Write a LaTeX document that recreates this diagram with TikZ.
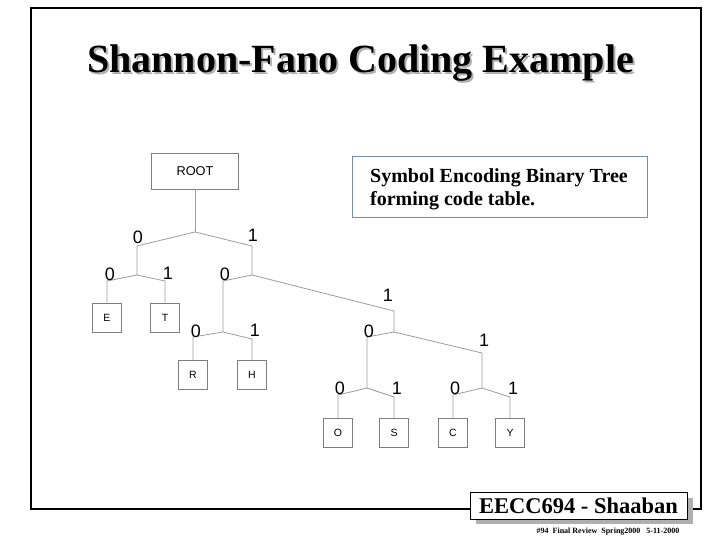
\documentclass[tikz,border=0pt]{standalone}
\usepackage{fontspec}
\setmainfont{Liberation Serif}
\setsansfont{Liberation Sans}
\usetikzlibrary{positioning}

\definecolor{treegray}{RGB}{155,155,155}
\definecolor{boxgray}{RGB}{125,125,125}
\definecolor{noteblue}{RGB}{120,138,170}
\definecolor{shadowgray}{RGB}{175,175,175}

\tikzset{
  leaf/.style={draw=boxgray, line width=0.7pt, minimum width=29pt, minimum height=29pt,
    inner sep=0pt, font=\sffamily\fontsize{10.5}{10.5}\selectfont},
  bit/.style={font=\sffamily\fontsize{18}{18}\selectfont, inner sep=0pt},
  branch/.style={draw=treegray, line width=0.8pt},
}

\begin{document}
\begin{tikzpicture}[x = 1pt, y = -1pt]
\useasboundingbox (0,0) rectangle (720,540);

% slide frame
\draw[line width=2.5pt] (31,8) rectangle (701,509);

% title with shadow
\node[font=\bfseries\fontsize{40}{40}\selectfont, text=shadowgray, anchor=base, inner sep=0pt]
  (titleshadow) at (362.5,75) {Shannon-Fano Coding Example};
\node[font=\bfseries\fontsize{40}{40}\selectfont, anchor=base, inner sep=0pt]
  (title) at (360.5,73) {Shannon-Fano Coding Example};

% note box
\node[draw=noteblue, line width=0.8pt, minimum width=295pt, minimum height=61pt, anchor=north west]
  (notebox) at (352,156) {};
\node[font=\bfseries\fontsize{20}{23}\selectfont, align=left, anchor=north west, inner sep=0pt]
  (note) at (370,168) {Symbol Encoding Binary Tree\\forming code table.};

% tree nodes
\node[draw=boxgray, line width=0.7pt, minimum width=87pt, minimum height=36pt, inner sep=0pt,
  font=\sffamily\fontsize{12.8}{12.8}\selectfont] (root) at (195,171) {ROOT};
\node[leaf] (E) at (107,317.5) {E};
\node[leaf] (T) at (165,317.5) {T};
\node[leaf] (R) at (193,375) {R};
\node[leaf] (H) at (252,375) {H};
\node[leaf] (O) at (338,432.5) {O};
\node[leaf] (S) at (394,432.5) {S};
\node[leaf] (C) at (453,432.5) {C};
\node[leaf] (Y) at (510,432.5) {Y};

% junctions and elbows
\coordinate (j0) at (195,232);
\coordinate (e0) at (137,246);
\coordinate (e1) at (252,246);
\coordinate (j00) at (137,275);
\coordinate (j1) at (252,275);
\coordinate (e00) at (107,281);
\coordinate (e01) at (165,281);
\coordinate (e10) at (223,281);
\coordinate (e11) at (394,311);
\coordinate (j10) at (223,332);
\coordinate (j11) at (394,332);
\coordinate (e100) at (193,337);
\coordinate (e101) at (252,339);
\coordinate (e110) at (367,337);
\coordinate (e111) at (482,353);
\coordinate (j110) at (367,388);
\coordinate (j111) at (482,388);
\coordinate (e1100) at (338,395);
\coordinate (e1101) at (394,397);
\coordinate (e1110) at (453,395);
\coordinate (e1111) at (510,397);

% branches
\draw[branch] (root.south) -- (j0);
\draw[branch] (j0) -- (e0) -- (j00);
\draw[branch] (j0) -- (e1) -- (j1);
\draw[branch] (j00) -- (e00) -- (E.north);
\draw[branch] (j00) -- (e01) -- (T.north);
\draw[branch] (j1) -- (e10) -- (j10);
\draw[branch] (j1) -- (e11) -- (j11);
\draw[branch] (j10) -- (e100) -- (R.north);
\draw[branch] (j10) -- (e101) -- (H.north);
\draw[branch] (j11) -- (e110) -- (j110);
\draw[branch] (j11) -- (e111) -- (j111);
\draw[branch] (j110) -- (e1100) -- (O.north);
\draw[branch] (j110) -- (e1101) -- (S.north);
\draw[branch] (j111) -- (e1110) -- (C.north);
\draw[branch] (j111) -- (e1111) -- (Y.north);

% bit labels
\node[bit] (b0) at (138,237) {0};
\node[bit] (b1) at (253,235) {1};
\node[bit] (b00) at (110,274) {0};
\node[bit] (b01) at (168,273) {1};
\node[bit] (b10) at (225,274) {0};
\node[bit] (b11) at (388,295) {1};
\node[bit] (b100) at (196,331) {0};
\node[bit] (b101) at (255,330) {1};
\node[bit] (b110) at (369,331) {0};
\node[bit] (b111) at (484,340) {1};
\node[bit] (b1100) at (340,388) {0};
\node[bit] (b1101) at (397,388) {1};
\node[bit] (b1110) at (455,388) {0};
\node[bit] (b1111) at (513,388) {1};

% footer
\fill[shadowgray] (476,498) rectangle (693,524);
\node[draw, line width=1pt, fill=white, minimum width=217pt, minimum height=27pt, inner sep=0pt,
  font=\bfseries\fontsize{22.5}{22.5}\selectfont] (footer) at (578.5,505.5) {EECC694 - Shaaban};
\node[font=\bfseries\fontsize{8}{8}\selectfont, anchor=base, inner sep=0pt]
  (footnote) at (608,533) {\#94~ Final Review~ Spring2000~~ 5-11-2000};

\end{tikzpicture}
\end{document}
